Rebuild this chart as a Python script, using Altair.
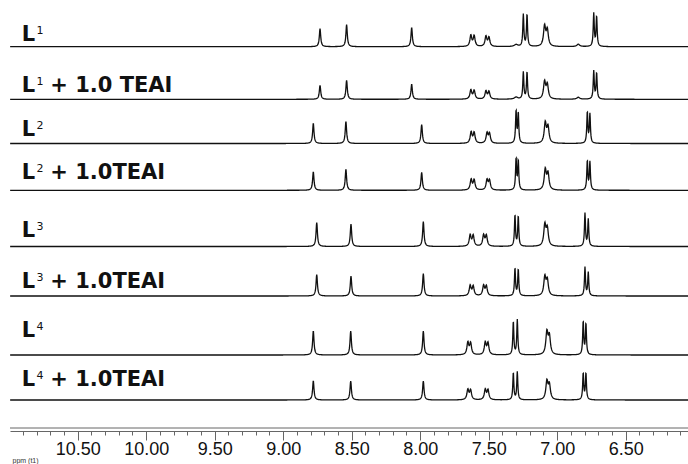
import altair as alt
import numpy as np
import pandas as pd

# ---------------- data ----------------
# stacked traces (top to bottom)
TRACES = ["L1", "L1+TEAI", "L2", "L2+TEAI", "L3", "L3+TEAI", "L4", "L4+TEAI"]
LABEL_SUP = ["1", "1", "2", "2", "3", "3", "4", "4"]
LABEL_REST = ["", "+ 1.0 TEAI", "", "+ 1.0TEAI", "", "+ 1.0TEAI", "", "+ 1.0TEAI"]

# peak lists: chemical shift (ppm), intensity, half line width (ppm)
L1_PPM = [8.731, 8.537, 8.062, 7.630, 7.606, 7.520, 7.498, 7.300, 7.247, 7.220, 7.092, 7.072, 6.846, 6.733, 6.712]
L1_INT = [18, 22, 19, 11, 10.5, 10, 9, 2, 32, 32, 20, 16, 2.5, 33, 30]
L1_W = [0.006, 0.006, 0.006, 0.008, 0.008, 0.008, 0.008, 0.015, 0.0045, 0.0045, 0.009, 0.009, 0.012, 0.0045, 0.0045]

L1T_PPM = L1_PPM
L1T_INT = [14, 19, 15, 9, 8.5, 8, 7.5, 2, 27, 27, 17, 14, 2, 28, 26]
L1T_W = L1_W

W13 = [0.006, 0.006, 0.006, 0.008, 0.008, 0.008, 0.008, 0.0045, 0.0045, 0.009, 0.009, 0.0045, 0.0045]

L2_PPM = [8.780, 8.542, 7.989, 7.628, 7.606, 7.512, 7.494, 7.300, 7.284, 7.087, 7.067, 6.780, 6.761]
L2_INT = [20, 22, 19, 11, 10.5, 10, 9.5, 32, 30, 20, 16, 31, 29]
L2T_PPM = L2_PPM
L2T_INT = [18.5, 21, 18, 10.5, 10, 10, 9.5, 31, 29, 20, 16, 29, 28]

L3_PPM = [8.755, 8.505, 7.977, 7.635, 7.613, 7.537, 7.517, 7.308, 7.284, 7.090, 7.072, 6.797, 6.773]
L3_INT = [24, 22.5, 25, 11, 10.5, 11, 10.5, 31, 30, 21, 17, 33, 27]
L3T_PPM = L3_PPM
L3T_INT = [21.5, 20, 22.5, 10, 9.5, 10, 9.5, 27.5, 26.5, 18.5, 15, 28.5, 23.5]

L4_PPM = [8.780, 8.507, 7.977, 7.652, 7.632, 7.525, 7.505, 7.320, 7.291, 7.075, 7.057, 6.810, 6.790]
L4_INT = [24, 24, 24, 12, 11.5, 12, 11.5, 33, 35, 22, 18, 33, 31]
L4T_PPM = L4_PPM
L4T_INT = [19, 19, 19, 10, 9.5, 10, 9.5, 27, 28, 18, 14.5, 26.5, 26.5]

PEAKS = [
    (L1_PPM, L1_INT, L1_W), (L1T_PPM, L1T_INT, L1T_W),
    (L2_PPM, L2_INT, W13), (L2T_PPM, L2T_INT, W13),
    (L3_PPM, L3_INT, W13), (L3T_PPM, L3T_INT, W13),
    (L4_PPM, L4_INT, W13), (L4T_PPM, L4T_INT, W13),
]

MAJOR_TICKS = [10.5, 10.0, 9.5, 9.0, 8.5, 8.0, 7.5, 7.0, 6.5]
MINOR_TICKS = [round(10.9 - 0.1 * i, 1) for i in range(49)]

# ---------------- layout ----------------
PLOT_H = 431
X_LEFT, X_RIGHT = 10.994, 6.045
STACK = [384.3, 331.7, 287.5, 240.7, 184.5, 135.0, 76.0, 31.0]   # trace offsets (height units)
LABEL_LIFT = [6.0, 7.6, 7.5, 11.0, 9.2, 7.7, 18.0, 14.0]

x_scale = alt.Scale(domain=[X_RIGHT, X_LEFT], reverse=True, nice=False, zero=False)
y_scale = alt.Scale(domain=[0, PLOT_H], nice=False, zero=False)

grid = np.arange(X_RIGHT, X_LEFT, 0.002)
frames = []
for name, off, (pp, ii, ww) in zip(TRACES, STACK, PEAKS):
    yv = np.zeros_like(grid)
    for p, h, g in zip(pp, ii, ww):
        yv += h * g * g / ((grid - p) ** 2 + g * g)
    frames.append(pd.DataFrame({"ppm": grid, "y": off + yv, "trace": name}))
spec = pd.concat(frames, ignore_index=True)

lab = pd.DataFrame({
    "trace": TRACES,
    "y": [o + l for o, l in zip(STACK, LABEL_LIFT)],
    "sup": LABEL_SUP,
    "rest": LABEL_REST,
})
lab["L"] = "L"
lab["xL"] = 10.909
lab["xs"] = 10.80
lab["xr"] = 10.70

FONT = "DejaVu Sans"

lines = alt.Chart(spec).mark_line(color="#111111", strokeWidth=1.3, clip=True).encode(
    x=alt.X("ppm:Q", scale=x_scale, axis=alt.Axis(
        values=MAJOR_TICKS, format=".2f", tickSize=9, tickColor="#666", domainColor="#666",
        domainWidth=1, tickWidth=1, labelFont="Liberation Sans", labelFontSize=18,
        labelColor="#111", labelPadding=0, grid=False, orient="bottom",
        title="ppm (t1)", titleFont="Liberation Sans", titleFontSize=7, titleFontWeight="normal",
        titleAnchor="start", titleAlign="left", titleX=2, titleY=32, titleBaseline="bottom",
        titleColor="#333")),
    y=alt.Y("y:Q", scale=y_scale, axis=None),
    detail="trace:N",
)

rule_df = pd.DataFrame({"x1": [X_LEFT], "x2": [X_RIGHT], "y": [3.0]})
rule = alt.Chart(rule_df).mark_rule(color="#666", strokeWidth=1).encode(
    x=alt.X("x1:Q", scale=x_scale, axis=alt.Axis(
        values=MINOR_TICKS, tickSize=4, labels=False, domain=False, grid=False,
        tickColor="#666", tickWidth=1, title=None, orient="bottom")),
    x2="x2:Q",
    y=alt.Y("y:Q", scale=y_scale, axis=None),
)

tL = alt.Chart(lab).mark_text(font=FONT, fontSize=21, fontWeight="bold", align="left",
                              baseline="alphabetic", color="#111").encode(
    x=alt.X("xL:Q", scale=x_scale, axis=None), y=alt.Y("y:Q", scale=y_scale, axis=None), text="L:N")
tS = alt.Chart(lab).mark_text(font=FONT, fontSize=11, align="left", baseline="alphabetic",
                              dy=-7, color="#111").encode(
    x=alt.X("xs:Q", scale=x_scale, axis=None), y=alt.Y("y:Q", scale=y_scale, axis=None), text="sup:N")
tR = alt.Chart(lab).mark_text(font=FONT, fontSize=21, fontWeight="bold", align="left",
                              baseline="alphabetic", color="#111").encode(
    x=alt.X("xr:Q", scale=x_scale, axis=None), y=alt.Y("y:Q", scale=y_scale, axis=None), text="rest:N")

chart = alt.layer(lines, rule, tL, tS, tR).resolve_axis(x="independent").properties(
    width=678, height=PLOT_H,
    padding={"left": 10, "top": 0, "right": 0, "bottom": 33},
    autosize=alt.AutoSizeParams(type="none"),
    background="white",
).configure_view(stroke=None)

chart.save("out.html", embed_options={"renderer": "svg", "actions": False})
